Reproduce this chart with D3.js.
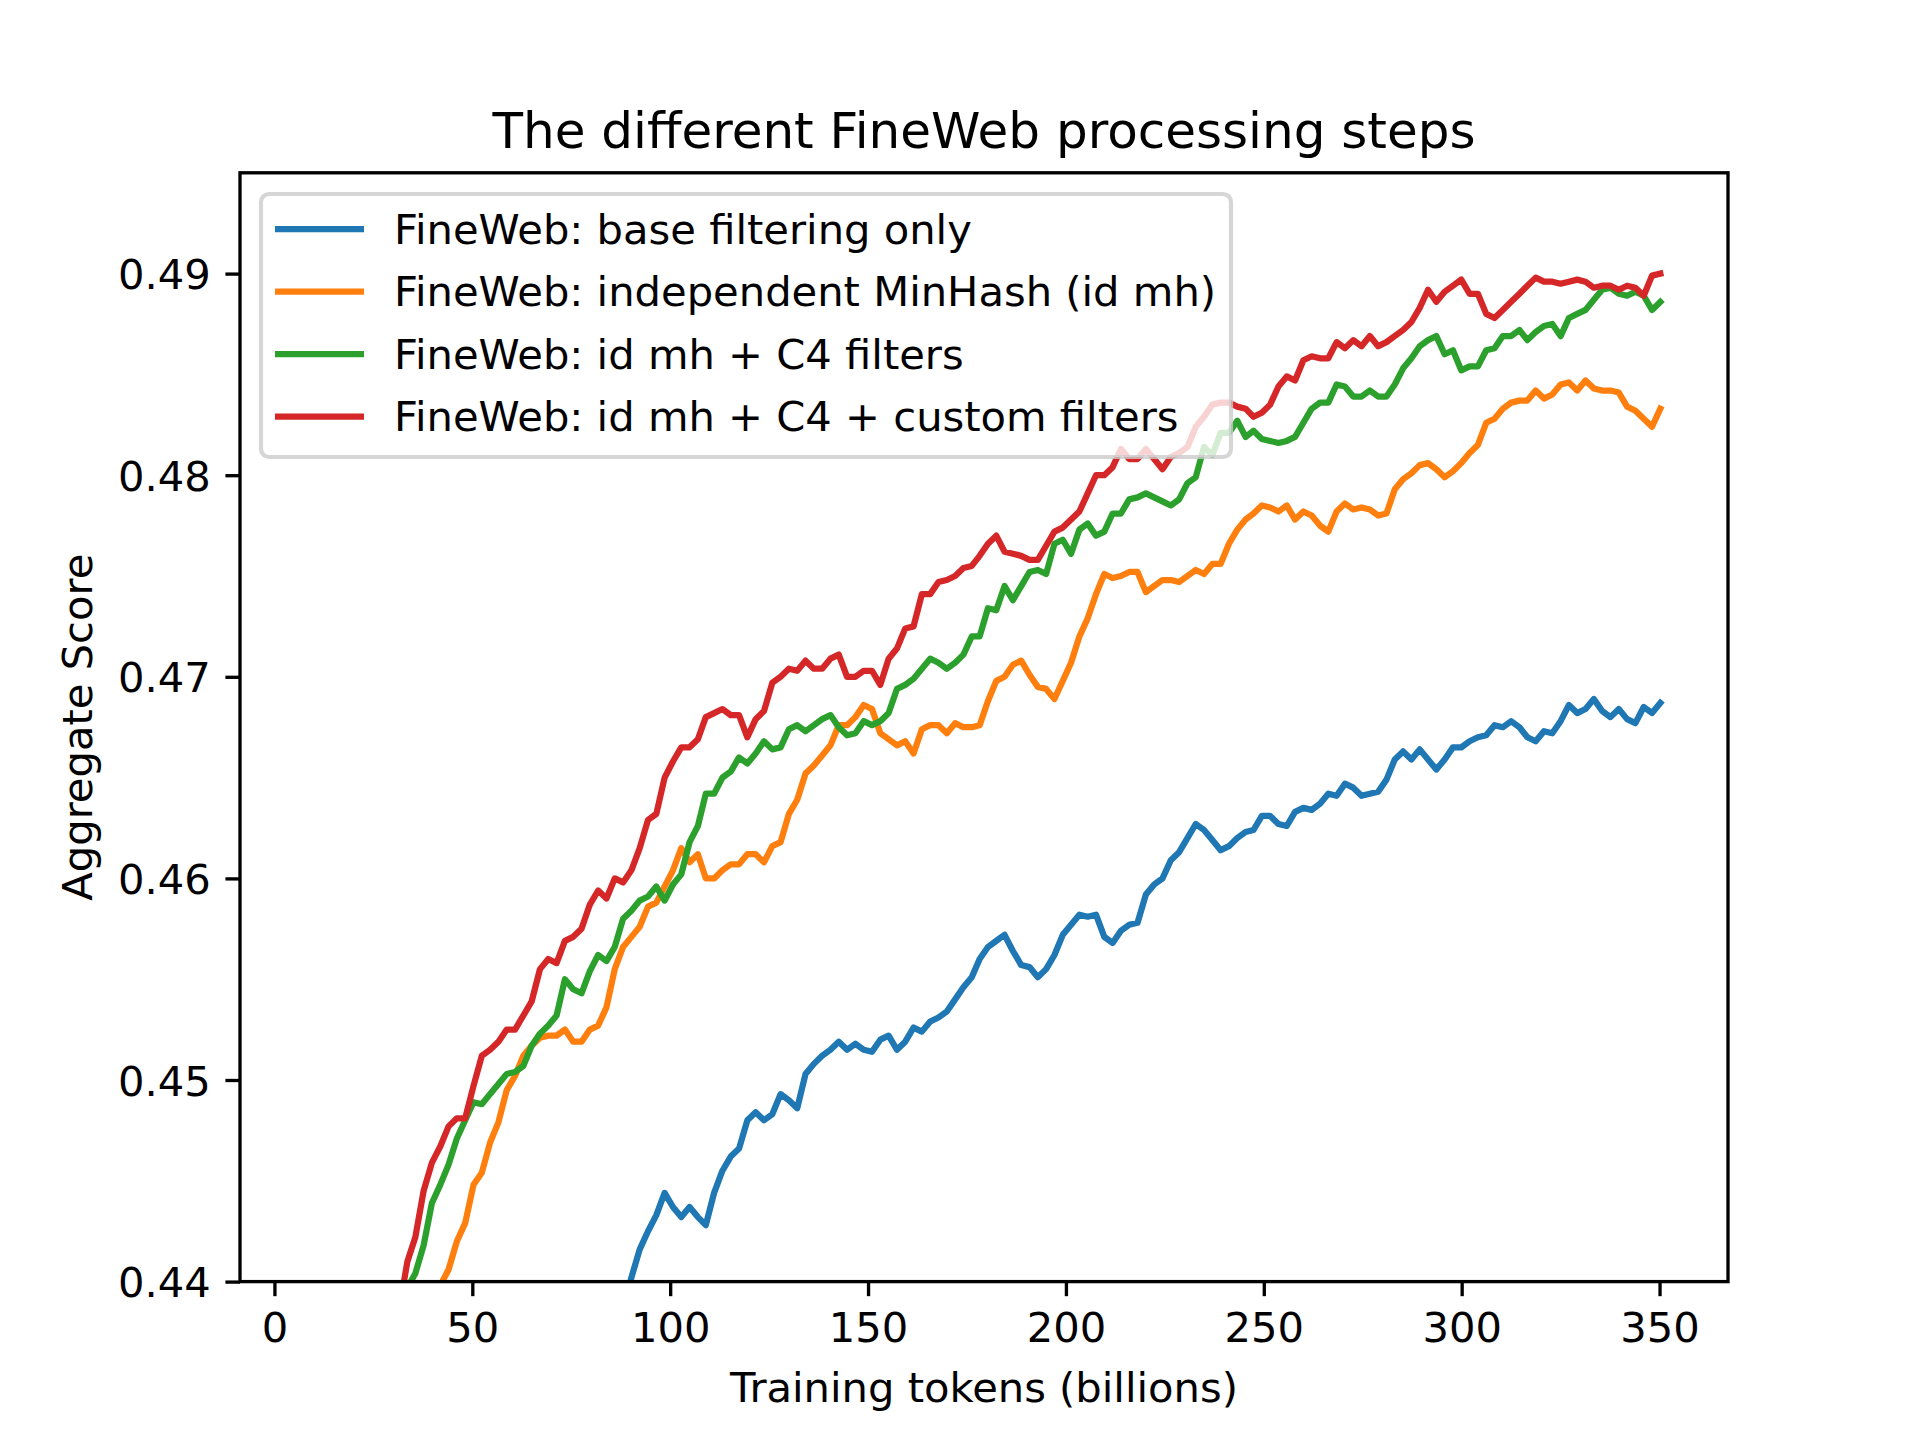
<!DOCTYPE html>
<html>
<head>
<meta charset="utf-8">
<script src="https://cdn.jsdelivr.net/npm/d3@7"></script>
<style>
  html, body { margin: 0; padding: 0; background: #ffffff; }
  svg { display: block; }
  text { font-family: "DejaVu Sans", sans-serif; fill: #000; }
</style>
</head>
<body>
<svg id="chart" width="1920" height="1440"></svg>
<script>
// ---- Data ----
// Checkpoint positions (training tokens, billions)
const tokens = [31.5,33.6,35.6,37.7,39.8,41.9,44.0,46.1,48.2,50.3,
52.4,54.5,56.6,58.7,60.8,62.9,65.0,67.1,69.2,71.3,
73.4,75.5,77.6,79.7,81.8,83.9,86.0,88.1,90.2,92.3,
94.4,96.5,98.6,100.7,102.8,104.9,107.0,109.0,111.1,113.2,
115.3,117.4,119.5,121.6,123.7,125.8,127.9,130.0,132.1,134.2,
136.3,138.4,140.5,142.6,144.7,146.8,148.9,151.0,153.1,155.2,
157.3,159.4,161.5,163.6,165.7,167.8,169.9,172.0,174.1,176.2,
178.2,180.3,182.4,184.5,186.6,188.7,190.8,192.9,195.0,197.1,
199.2,201.3,203.4,205.5,207.6,209.7,211.8,213.9,216.0,218.1,
220.2,222.3,224.4,226.5,228.6,230.7,232.8,234.9,237.0,239.1,
241.2,243.3,245.4,247.4,249.5,251.6,253.7,255.8,257.9,260.0,
262.1,264.2,266.3,268.4,270.5,272.6,274.7,276.8,278.9,281.0,
283.1,285.2,287.3,289.4,291.5,293.6,295.7,297.8,299.9,302.0,
304.1,306.2,308.3,310.4,312.5,314.6,316.6,318.7,320.8,322.9,
325.0,327.1,329.2,331.3,333.4,335.5,337.6,339.7,341.8,343.9,
346.0,348.1,350.2];

// Each series holds the scores of the LAST n checkpoints of `tokens`
// (earlier checkpoints lie below the visible range).
const baseFiltering = [0.4385,0.4402,0.4416,
0.4425,0.4433,0.4444,0.4437,0.4432,0.4437,0.4432,0.4428,0.4444,0.4455,
0.4462,0.4466,0.4480,0.4484,0.4480,0.4483,0.4493,0.4490,0.4486,0.4503,
0.4508,0.4512,0.4515,0.4519,0.4515,0.4518,0.4515,0.4514,0.4520,0.4522,
0.4515,0.4519,0.4526,0.4524,0.4529,0.4531,0.4534,0.4540,0.4546,0.4551,
0.4560,0.4566,0.4569,0.4572,0.4564,0.4557,0.4556,0.4551,0.4555,0.4562,
0.4572,0.4577,0.4582,0.4581,0.4582,0.4571,0.4568,0.4574,0.4577,0.4578,
0.4592,0.4597,0.4600,0.4609,0.4613,0.4620,0.4627,0.4624,0.4619,0.4614,
0.4616,0.4620,0.4623,0.4624,0.4631,0.4631,0.4627,0.4626,0.4633,0.4635,
0.4634,0.4637,0.4642,0.4641,0.4647,0.4645,0.4641,0.4642,0.4643,0.4649,
0.4659,0.4663,0.4659,0.4664,0.4659,0.4654,0.4659,0.4665,0.4665,0.4668,
0.4670,0.4671,0.4676,0.4675,0.4678,0.4675,0.4670,0.4668,0.4673,0.4672,
0.4678,0.4686,0.4682,0.4684,0.4689,0.4683,0.4680,0.4684,0.4679,0.4677,
0.4685,0.4682,0.4687];

const independentMinHash = [0.4398,0.4406,0.4420,0.4429,0.4448,
0.4454,0.4469,0.4479,0.4495,0.4502,0.4512,0.4517,0.4521,0.4522,0.4522,
0.4525,0.4519,0.4519,0.4525,0.4527,0.4536,0.4555,0.4566,0.4571,0.4576,
0.4586,0.4588,0.4596,0.4604,0.4615,0.4608,0.4612,0.4600,0.4600,0.4604,
0.4607,0.4607,0.4612,0.4612,0.4608,0.4616,0.4618,0.4632,0.4639,0.4652,
0.4656,0.4661,0.4666,0.4676,0.4676,0.4680,0.4686,0.4684,0.4672,0.4669,
0.4666,0.4668,0.4662,0.4674,0.4676,0.4676,0.4672,0.4677,0.4675,0.4675,
0.4676,0.4688,0.4698,0.4700,0.4706,0.4708,0.4701,0.4695,0.4694,0.4689,
0.4698,0.4707,0.4720,0.4729,0.4741,0.4751,0.4749,0.4750,0.4752,0.4752,
0.4742,0.4745,0.4748,0.4748,0.4747,0.4750,0.4753,0.4751,0.4756,0.4756,
0.4766,0.4773,0.4778,0.4781,0.4785,0.4784,0.4782,0.4785,0.4778,0.4782,
0.4780,0.4775,0.4772,0.4782,0.4786,0.4783,0.4784,0.4783,0.4780,0.4781,
0.4793,0.4798,0.4801,0.4805,0.4806,0.4803,0.4799,0.4802,0.4806,0.4811,
0.4815,0.4826,0.4828,0.4833,0.4836,0.4837,0.4837,0.4842,0.4838,0.4840,
0.4845,0.4846,0.4842,0.4847,0.4843,0.4842,0.4842,0.4841,0.4834,0.4832,
0.4828,0.4824,0.4833];

const idmhC4 = [0.4397,0.4404,0.4418,0.4439,0.4448,0.4458,0.4471,0.4480,0.4489,
0.4488,0.4493,0.4498,0.4503,0.4504,0.4507,0.4517,0.4523,0.4527,0.4532,
0.4550,0.4545,0.4543,0.4554,0.4562,0.4559,0.4566,0.4580,0.4584,0.4589,
0.4591,0.4596,0.4589,0.4597,0.4602,0.4618,0.4626,0.4642,0.4642,0.4650,
0.4653,0.4660,0.4657,0.4662,0.4668,0.4664,0.4665,0.4674,0.4676,0.4673,
0.4676,0.4679,0.4681,0.4675,0.4671,0.4672,0.4678,0.4676,0.4678,0.4682,
0.4694,0.4696,0.4699,0.4704,0.4709,0.4707,0.4704,0.4707,0.4711,0.4720,
0.4720,0.4734,0.4733,0.4745,0.4738,0.4745,0.4752,0.4753,0.4751,0.4766,
0.4768,0.4761,0.4773,0.4776,0.4770,0.4772,0.4781,0.4781,0.4788,0.4789,
0.4791,0.4789,0.4787,0.4785,0.4788,0.4796,0.4799,0.4814,0.4810,0.4821,
0.4821,0.4827,0.4819,0.4822,0.4818,0.4817,0.4816,0.4817,0.4819,0.4826,
0.4833,0.4836,0.4836,0.4845,0.4844,0.4839,0.4839,0.4842,0.4839,0.4839,
0.4845,0.4853,0.4858,0.4864,0.4867,0.4869,0.4860,0.4862,0.4852,0.4854,
0.4854,0.4862,0.4863,0.4869,0.4869,0.4872,0.4867,0.4871,0.4874,0.4875,
0.4869,0.4878,0.4880,0.4882,0.4887,0.4892,0.4893,0.4890,0.4889,0.4891,
0.4889,0.4882,0.4886];

const idmhC4Custom = [0.4386,0.4410,0.4422,0.4445,0.4459,0.4467,0.4477,0.4481,0.4481,0.4497,
0.4512,0.4515,0.4519,0.4525,0.4525,0.4532,0.4539,0.4555,0.4560,0.4558,
0.4569,0.4571,0.4575,0.4587,0.4594,0.4590,0.4600,0.4598,0.4604,0.4615,
0.4629,0.4632,0.4650,0.4658,0.4665,0.4665,0.4669,0.4680,0.4682,0.4684,
0.4681,0.4681,0.4670,0.4679,0.4683,0.4697,0.4700,0.4704,0.4703,0.4708,
0.4704,0.4704,0.4709,0.4711,0.4700,0.4700,0.4703,0.4703,0.4696,0.4709,
0.4714,0.4724,0.4725,0.4741,0.4741,0.4747,0.4748,0.4750,0.4754,0.4755,
0.4760,0.4766,0.4770,0.4762,0.4761,0.4760,0.4758,0.4758,0.4765,0.4772,
0.4774,0.4778,0.4782,0.4791,0.4800,0.4800,0.4804,0.4813,0.4808,0.4808,
0.4813,0.4808,0.4803,0.4809,0.4811,0.4814,0.4824,0.4829,0.4835,0.4836,
0.4836,0.4834,0.4833,0.4829,0.4831,0.4835,0.4844,0.4849,0.4847,0.4857,
0.4859,0.4858,0.4858,0.4866,0.4863,0.4867,0.4864,0.4869,0.4864,0.4866,
0.4869,0.4872,0.4876,0.4883,0.4892,0.4886,0.4891,0.4894,0.4897,0.4890,
0.4890,0.4880,0.4878,0.4882,0.4886,0.4890,0.4894,0.4898,0.4896,0.4896,
0.4895,0.4896,0.4897,0.4896,0.4893,0.4894,0.4894,0.4892,0.4894,0.4893,
0.4889,0.4899,0.4900];

const seriesNames = [
  "FineWeb: base filtering only",
  "FineWeb: independent MinHash (id mh)",
  "FineWeb: id mh + C4 filters",
  "FineWeb: id mh + C4 + custom filters"
];
const seriesColors = ["#1f77b4", "#ff7f0e", "#2ca02c", "#d62728"];
const seriesValues = [baseFiltering, independentMinHash, idmhC4, idmhC4Custom];

const xTicks = [0, 50, 100, 150, 200, 250, 300, 350];
const yTicks = [0.44, 0.45, 0.46, 0.47, 0.48, 0.49];
const xDomain = [-8.7, 367.3];
const yDomain = [0.44, 0.495];

const titleText = "The different FineWeb processing steps";
const xLabelText = "Training tokens (billions)";
const yLabelText = "Aggregate Score";

// ---- Layout (matplotlib 6.4x4.8in @ 300dpi) ----
const W = 1920, H = 1440;
const L = 240, R = 1728, T = 172.8, B = 1281.6;
const FS = 41.67;          // 10pt
const TFS = 50;            // 12pt
const TICK = 14.58, PAD = 14.58;
const SPINE = 3.33;
const LW = 6.25;

const svg = d3.select("#chart");
svg.append("rect").attr("width", W).attr("height", H).attr("fill", "#fff");

const x = d3.scaleLinear().domain(xDomain).range([L, R]);
const y = d3.scaleLinear().domain(yDomain).range([B, T]);

svg.append("defs").append("clipPath").attr("id", "plotclip")
  .append("rect").attr("x", L).attr("y", T).attr("width", R - L).attr("height", B - T);

// Lines
const lineGen = d3.line().x(d => x(d[0])).y(d => y(d[1]));
const linesG = svg.append("g").attr("clip-path", "url(#plotclip)");
seriesValues.forEach((vals, i) => {
  const offset = tokens.length - vals.length;
  const pts = vals.map((v, j) => [tokens[offset + j], v]);
  linesG.append("path")
    .attr("d", lineGen(pts))
    .attr("fill", "none")
    .attr("stroke", seriesColors[i])
    .attr("stroke-width", LW)
    .attr("stroke-linejoin", "round")
    .attr("stroke-linecap", "square");
});

// Axes
const xAxis = d3.axisBottom(x).tickValues(xTicks).tickFormat(d3.format("d"))
  .tickSizeInner(TICK).tickSizeOuter(0).tickPadding(PAD);
const yAxis = d3.axisLeft(y).tickValues(yTicks).tickFormat(d3.format(".2f"))
  .tickSizeInner(TICK).tickSizeOuter(0).tickPadding(PAD);

const gx = svg.append("g").attr("transform", `translate(0,${B})`).call(xAxis);
const gy = svg.append("g").attr("transform", `translate(${L},0)`).call(yAxis);
[gx, gy].forEach(g => {
  g.select(".domain").remove();
  g.selectAll(".tick line").attr("stroke", "#000").attr("stroke-width", SPINE);
  g.selectAll(".tick text").attr("font-size", FS)
    .attr("font-family", "DejaVu Sans").attr("fill", "#000");
});
gx.selectAll(".tick text").attr("dy", "0.74em");
gy.selectAll(".tick text").attr("dy", "0.36em");

// Spines
svg.append("rect").attr("x", L).attr("y", T).attr("width", R - L).attr("height", B - T)
  .attr("fill", "none").attr("stroke", "#000").attr("stroke-width", SPINE)
  .attr("stroke-linecap", "square");

// Title & labels
svg.append("text").attr("x", (L + R) / 2).attr("y", 148)
  .attr("text-anchor", "middle").attr("font-size", TFS).text(titleText);
svg.append("text").attr("x", (L + R) / 2).attr("y", 1402)
  .attr("text-anchor", "middle").attr("font-size", FS).text(xLabelText);
svg.append("text")
  .attr("transform", `translate(92,${(T + B) / 2}) rotate(-90)`)
  .attr("text-anchor", "middle").attr("font-size", FS).text(yLabelText);

// Legend
const legG = svg.append("g");
const legLeft = 261, legTop = 194, legRight = 1231, legBottom = 457;
const rowGap = 62.5;
const firstRowY = 229;
const handleX0 = 275, handleX1 = 364, textX = 394;
const frame = legG.append("rect")
  .attr("x", legLeft).attr("y", legTop)
  .attr("width", legRight - legLeft).attr("height", legBottom - legTop)
  .attr("rx", 8).attr("ry", 8)
  .attr("fill", "rgba(255,255,255,0.8)")
  .attr("stroke", "rgba(204,204,204,0.8)")
  .attr("stroke-width", 4.17);
seriesNames.forEach((name, i) => {
  const cy = firstRowY + i * rowGap;
  legG.append("line").attr("x1", handleX0).attr("x2", handleX1)
    .attr("y1", cy).attr("y2", cy)
    .attr("stroke", seriesColors[i]).attr("stroke-width", LW);
  legG.append("text").attr("x", textX).attr("y", cy + 14.5)
    .attr("font-size", FS).text(name);
});
</script>
</body>
</html>
